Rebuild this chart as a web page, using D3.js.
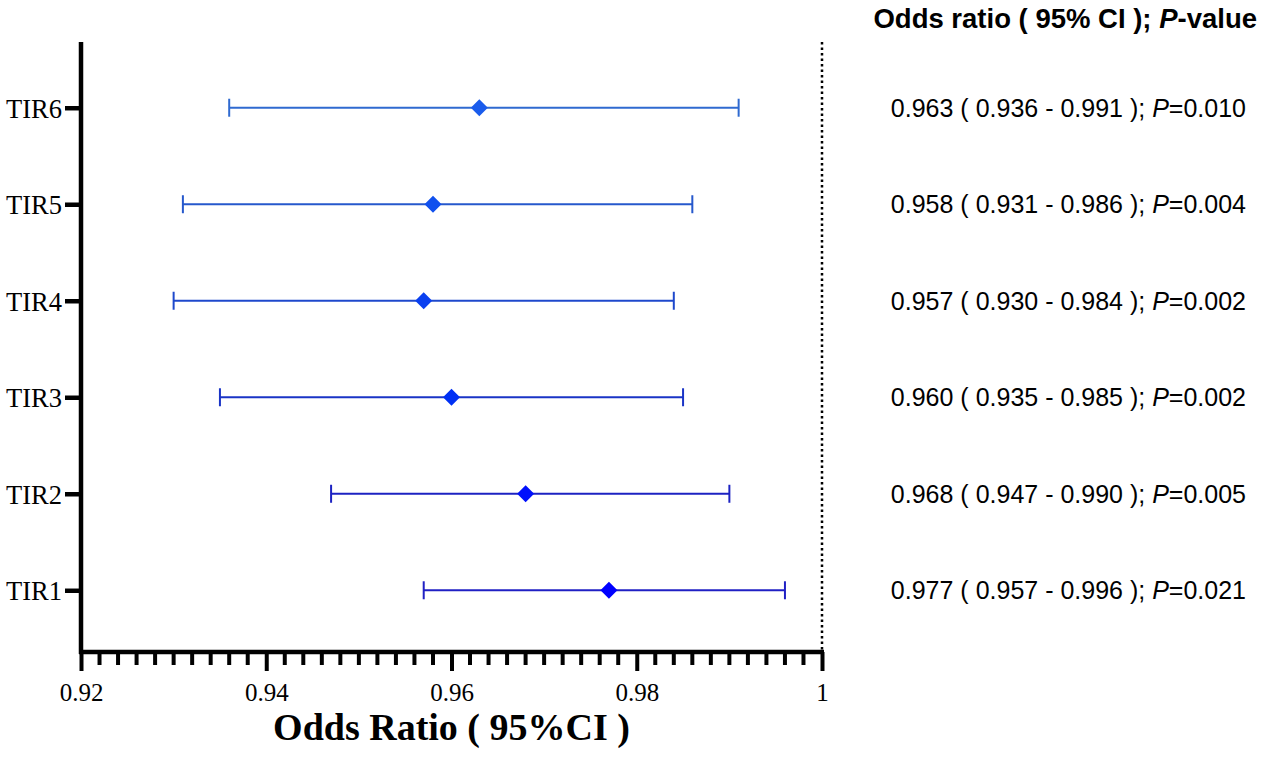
<!DOCTYPE html>
<html><head><meta charset="utf-8">
<script src="https://cdn.jsdelivr.net/npm/d3@7"></script>
<style>body{margin:0;background:#fff}svg{display:block}</style>
</head><body>
<script>
const categories = ["TIR1","TIR2","TIR3","TIR4","TIR5","TIR6"];
const orValues = [0.977,0.968,0.960,0.957,0.958,0.963];
const ciLow = [0.957,0.947,0.935,0.930,0.931,0.936];
const ciHigh = [0.996,0.990,0.985,0.984,0.986,0.991];
const pValues = ["0.021","0.005","0.002","0.002","0.004","0.010"];
const markerColors = ["#0000ff","#0010fc","#0030f4","#0a40f0","#1050ee","#1a5cec"];
const lineColors = ["#2020c4","#1c22c2","#1a34c6","#1e48cc","#2658cc","#2f6ad0"];
const xTicks = [0.92,0.94,0.96,0.98,1];

const W=1264,H=760;
const svg=d3.select("body").append("svg").attr("width",W).attr("height",H);
const x=d3.scaleLinear().domain([0.92,1]).range([81,822]);
const y=d3.scalePoint().domain(categories).range([653,45]).padding(0.65);
const serif="'Liberation Serif', 'Times New Roman', serif";
const sans="'Liberation Sans', Arial, sans-serif";

// dotted reference line at 1
svg.append("line").attr("x1",x(1)).attr("x2",x(1)).attr("y1",42).attr("y2",650)
  .attr("stroke","#000").attr("stroke-width",2.5).attr("stroke-dasharray","2.5,3").attr("stroke-linecap","butt");

// minor ticks
const minor=d3.range(0,41).map(i=>0.92+i*0.002).filter(v=>!xTicks.some(t=>Math.abs(t-v)<1e-9));
svg.append("g").selectAll("line").data(minor).join("line")
  .attr("x1",d=>x(d)).attr("x2",d=>x(d)).attr("y1",652).attr("y2",665)
  .attr("stroke","#000").attr("stroke-width",4);

// x axis
const xa=svg.append("g").attr("transform","translate(0,652)")
  .call(d3.axisBottom(x).tickValues(xTicks).tickSize(19).tickSizeOuter(0).tickPadding(12)
  .tickFormat(d=>d===1?"1":d3.format(".2f")(d)));
xa.attr("font-size",null).attr("font-family",null);
xa.select(".domain").attr("stroke-width",4.5).attr("d","M79,0H824");
xa.selectAll(".tick line").attr("stroke-width",4);
xa.selectAll(".tick text").style("font-family",serif).style("font-size","25px").attr("fill","#000");

// y axis
const ya=svg.append("g").attr("transform","translate(81,0)")
  .call(d3.axisLeft(y).tickSize(16).tickSizeOuter(0).tickPadding(3));
ya.attr("font-size",null).attr("font-family",null);
ya.select(".domain").attr("stroke-width",4.5).attr("d","M0,42V654");
ya.selectAll(".tick line").attr("stroke-width",4.5);
ya.selectAll(".tick text").style("font-family",serif).style("font-size","26.5px").attr("fill","#000").attr("dy","0.35em");

// x title
svg.append("text").attr("x",x(0.96)).attr("y",740).attr("text-anchor","middle")
  .style("font-family",serif).style("font-weight","bold").style("font-size","38px")
  .text("Odds Ratio ( 95%CI )");

// error bars
const rows=svg.append("g").selectAll("g").data(categories).join("g");
rows.append("line").attr("x1",(d,i)=>x(ciLow[i])).attr("x2",(d,i)=>x(ciHigh[i]))
  .attr("y1",d=>y(d)).attr("y2",d=>y(d)).attr("stroke",(d,i)=>lineColors[i]).attr("stroke-width",2);
rows.append("line").attr("x1",(d,i)=>x(ciLow[i])).attr("x2",(d,i)=>x(ciLow[i]))
  .attr("y1",d=>y(d)-9).attr("y2",d=>y(d)+9).attr("stroke",(d,i)=>lineColors[i]).attr("stroke-width",2);
rows.append("line").attr("x1",(d,i)=>x(ciHigh[i])).attr("x2",(d,i)=>x(ciHigh[i]))
  .attr("y1",d=>y(d)-9).attr("y2",d=>y(d)+9).attr("stroke",(d,i)=>lineColors[i]).attr("stroke-width",2);
rows.append("path").attr("d","M0,-8.5L8.5,0L0,8.5L-8.5,0Z")
  .attr("transform",(d,i)=>`translate(${x(orValues[i])},${y(d)})`).attr("fill",(d,i)=>markerColors[i]);

// right text
const fmt=d3.format(".3f");
const tx=svg.append("g").selectAll("text").data(categories).join("text")
  .attr("x",1246).attr("y",d=>y(d)+9).attr("text-anchor","end")
  .style("font-family",sans).style("font-size","25px").attr("fill","#000");
tx.append("tspan").text((d,i)=>`${fmt(orValues[i])} ( ${fmt(ciLow[i])} - ${fmt(ciHigh[i])} ); `);
tx.append("tspan").style("font-style","italic").text("P");
tx.append("tspan").text((d,i)=>`=${pValues[i]}`);

const hd=svg.append("text").attr("x",1257).attr("y",28).attr("text-anchor","end")
  .style("font-family",sans).style("font-size","27.5px").style("font-weight","bold");
hd.append("tspan").text("Odds ratio ( 95% CI ); ");
hd.append("tspan").style("font-style","italic").text("P");
hd.append("tspan").text("-value");
</script>
</body></html>
